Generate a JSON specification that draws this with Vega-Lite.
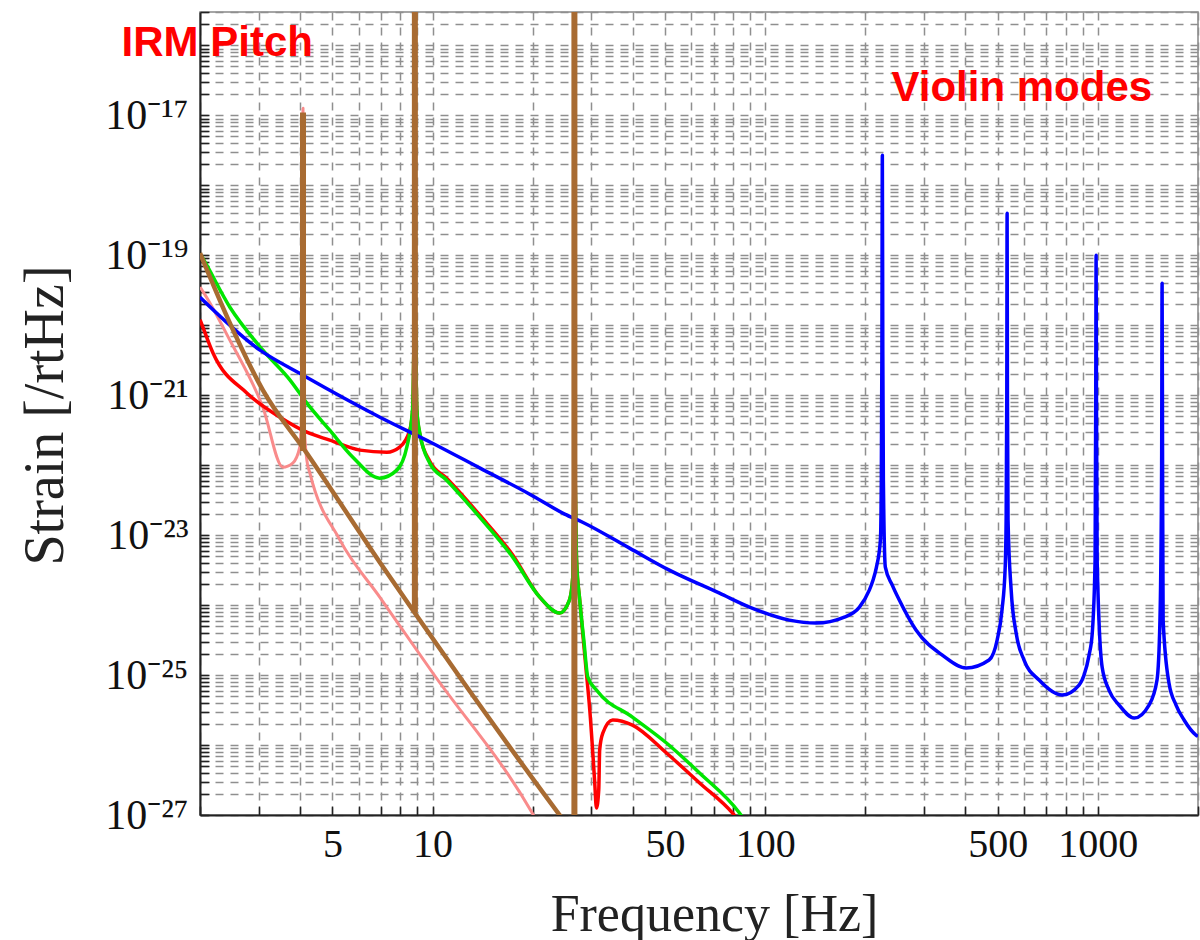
{
  "$schema": "https://vega.github.io/schema/vega-lite/v6.json",
  "width": 998,
  "height": 803,
  "autosize": {"type": "none"},
  "padding": {"left": 200, "top": 12, "right": 2, "bottom": 125},
  "background": "white",
  "config": {"view": {"stroke": "#888", "strokeWidth": 1.5}},
  "data": {"values": [
    {"c":"pink","i":1,"f":2.0,"s":3.5e-20},
    {"c":"pink","i":2,"f":2.03,"s":3.16e-20},
    {"c":"pink","i":3,"f":2.46,"s":6.10e-21},
    {"c":"pink","i":4,"f":3.09,"s":6.74e-22},
    {"c":"pink","i":5,"f":3.55,"s":9.36e-23},
    {"c":"pink","i":6,"f":3.80,"s":1.07e-22},
    {"c":"pink","i":7,"f":3.99,"s":1.81e-22},
    {"c":"pink","i":8,"f":4.05,"s":8.49e-22},
    {"c":"pink","i":9,"f":4.08,"s":1.26e-17},
    {"c":"pink","i":10,"f":4.11,"s":4.40e-22},
    {"c":"pink","i":11,"f":4.19,"s":1.18e-22},
    {"c":"pink","i":12,"f":4.28,"s":7.69e-23},
    {"c":"pink","i":13,"f":5.27,"s":8.49e-24},
    {"c":"pink","i":14,"f":6.94,"s":1.30e-24},
    {"c":"pink","i":15,"f":10.02,"s":1.07e-25},
    {"c":"pink","i":16,"f":19.86,"s":1.10e-27},
    {"c":"pink","i":17,"f":21.7,"s":5.18e-28},

    {"c":"red","i":1,"f":2.0,"s":1.2e-20},
    {"c":"red","i":2,"f":2.03,"s":1.0e-20},
    {"c":"red","i":3,"f":2.19,"s":3.98e-21},
    {"c":"red","i":4,"f":2.77,"s":1.07e-21},
    {"c":"red","i":5,"f":3.48,"s":4.85e-22},
    {"c":"red","i":6,"f":4.19,"s":2.96e-22},
    {"c":"red","i":7,"f":4.91,"s":2.28e-22},
    {"c":"red","i":8,"f":6.05,"s":1.64e-22},
    {"c":"red","i":9,"f":7.29,"s":1.53e-22},
    {"c":"red","i":10,"f":7.97,"s":1.81e-22},
    {"c":"red","i":11,"f":8.54,"s":3.16e-22},
    {"c":"red","i":12,"f":8.72,"s":6.10e-22},
    {"c":"red","i":13,"f":8.85,"s":2.28e-20},
    {"c":"red","i":14,"f":8.97,"s":6.10e-22},
    {"c":"red","i":15,"f":9.16,"s":2.74e-22},
    {"c":"red","i":16,"f":9.81,"s":1.14e-22},
    {"c":"red","i":17,"f":11.03,"s":6.5e-23},
    {"c":"red","i":18,"f":13.86,"s":1.94e-23},
    {"c":"red","i":19,"f":17.42,"s":5.2e-24},
    {"c":"red","i":20,"f":21.0,"s":1.30e-24},
    {"c":"red","i":21,"f":24.1,"s":7.69e-25},
    {"c":"red","i":22,"f":25.8,"s":1.18e-24},
    {"c":"red","i":23,"f":26.4,"s":2.51e-24},
    {"c":"red","i":24,"f":26.7,"s":1.64e-22},
    {"c":"red","i":25,"f":27.1,"s":4.40e-24},
    {"c":"red","i":26,"f":27.7,"s":1.18e-24},
    {"c":"red","i":27,"f":28.5,"s":2.68e-25},
    {"c":"red","i":28,"f":28.9,"s":1.30e-25},
    {"c":"red","i":29,"f":29.7,"s":3.16e-26},
    {"c":"red","i":30,"f":30.7,"s":3.16e-27},
    {"c":"red","i":31,"f":31.1,"s":1.26e-27},
    {"c":"red","i":32,"f":31.6,"s":2.28e-27},
    {"c":"red","i":33,"f":31.8,"s":8.49e-27},
    {"c":"red","i":34,"f":32.5,"s":1.48e-26},
    {"c":"red","i":35,"f":34.8,"s":2.28e-26},
    {"c":"red","i":36,"f":39.9,"s":1.93e-26},
    {"c":"red","i":37,"f":50.5,"s":7.69e-27},
    {"c":"red","i":38,"f":63.5,"s":2.87e-27},
    {"c":"red","i":39,"f":79.7,"s":1.07e-27},
    {"c":"red","i":40,"f":89.7,"s":5.18e-28},

    {"c":"green","i":1,"f":2.0,"s":1.05e-19},
    {"c":"green","i":2,"f":2.03,"s":9.36e-20},
    {"c":"green","i":3,"f":2.46,"s":1.81e-20},
    {"c":"green","i":4,"f":3.09,"s":4.40e-21},
    {"c":"green","i":5,"f":3.73,"s":1.64e-21},
    {"c":"green","i":6,"f":4.19,"s":7.69e-22},
    {"c":"green","i":7,"f":4.91,"s":3.16e-22},
    {"c":"green","i":8,"f":5.76,"s":1.30e-22},
    {"c":"green","i":9,"f":6.94,"s":6.52e-23},
    {"c":"green","i":10,"f":7.81,"s":8.49e-23},
    {"c":"green","i":11,"f":8.37,"s":1.81e-22},
    {"c":"green","i":12,"f":8.72,"s":6.74e-22},
    {"c":"green","i":13,"f":8.85,"s":2.28e-20},
    {"c":"green","i":14,"f":8.97,"s":6.10e-22},
    {"c":"green","i":15,"f":9.16,"s":2.87e-22},
    {"c":"green","i":16,"f":9.81,"s":1.07e-22},
    {"c":"green","i":17,"f":11.03,"s":6.10e-23},
    {"c":"green","i":18,"f":13.86,"s":1.81e-23},
    {"c":"green","i":19,"f":17.42,"s":4.85e-24},
    {"c":"green","i":20,"f":21.0,"s":1.30e-24},
    {"c":"green","i":21,"f":24.1,"s":7.69e-25},
    {"c":"green","i":22,"f":25.8,"s":1.18e-24},
    {"c":"green","i":23,"f":26.4,"s":2.51e-24},
    {"c":"green","i":24,"f":26.7,"s":1.64e-22},
    {"c":"green","i":25,"f":27.1,"s":4.40e-24},
    {"c":"green","i":26,"f":27.7,"s":1.18e-24},
    {"c":"green","i":27,"f":28.5,"s":3.16e-25},
    {"c":"green","i":28,"f":29.3,"s":9.36e-26},
    {"c":"green","i":29,"f":31.1,"s":6.10e-26},
    {"c":"green","i":30,"f":39.9,"s":2.51e-26},
    {"c":"green","i":31,"f":50.5,"s":1.07e-26},
    {"c":"green","i":32,"f":63.5,"s":3.98e-27},
    {"c":"green","i":33,"f":83.7,"s":1.07e-27},
    {"c":"green","i":34,"f":92.8,"s":5.18e-28},

    {"c":"blue","i":1,"f":2.0,"s":2.51e-20},
    {"c":"blue","i":2,"f":3.03,"s":4.40e-21},
    {"c":"blue","i":3,"f":4.08,"s":1.93e-21},
    {"c":"blue","i":4,"f":6.95,"s":4.85e-22},
    {"c":"blue","i":5,"f":10.0,"s":2.06e-22},
    {"c":"blue","i":6,"f":13.9,"s":9.06e-23},
    {"c":"blue","i":7,"f":19.6,"s":3.85e-23},
    {"c":"blue","i":8,"f":24.96,"s":2.0e-23},
    {"c":"blue","i":9,"f":28.25,"s":1.53e-23},
    {"c":"blue","i":10,"f":39.1,"s":6.52e-24},
    {"c":"blue","i":11,"f":51.5,"s":3.16e-24},
    {"c":"blue","i":12,"f":72.9,"s":1.48e-24},
    {"c":"blue","i":13,"f":89.7,"s":9.36e-25},
    {"c":"blue","i":14,"f":118.2,"s":6.10e-25},
    {"c":"blue","i":15,"f":142,"s":5.53e-25},
    {"c":"blue","i":16,"f":173,"s":6.74e-25},
    {"c":"blue","i":17,"f":192,"s":9.36e-25},
    {"c":"blue","i":18,"f":205.6,"s":1.64e-24},
    {"c":"blue","i":19,"f":211,"s":2.28e-24},
    {"c":"blue","i":20,"f":216,"s":3.49e-24},
    {"c":"blue","i":21,"f":222,"s":8.49e-24},
    {"c":"blue","i":22,"f":223.4,"s":6.1e-23},
    {"c":"blue","i":23,"f":224.3,"s":4.4e-21},
    {"c":"blue","i":24,"f":225,"s":2.68e-18},
    {"c":"blue","i":25,"f":225.7,"s":4.4e-21},
    {"c":"blue","i":26,"f":226.6,"s":6.1e-23},
    {"c":"blue","i":27,"f":229.7,"s":3.49e-24},
    {"c":"blue","i":28,"f":241,"s":1.93e-24},
    {"c":"blue","i":29,"f":253,"s":1.18e-24},
    {"c":"blue","i":30,"f":284,"s":4.40e-25},
    {"c":"blue","i":31,"f":340.6,"s":1.93e-25},
    {"c":"blue","i":32,"f":402,"s":1.26e-25},
    {"c":"blue","i":33,"f":471,"s":1.64e-25},
    {"c":"blue","i":34,"f":498,"s":3.16e-25},
    {"c":"blue","i":35,"f":515,"s":8.49e-25},
    {"c":"blue","i":36,"f":526.6,"s":3.49e-24},
    {"c":"blue","i":37,"f":530,"s":1.64e-23},
    {"c":"blue","i":38,"f":532.4,"s":1.0e-21},
    {"c":"blue","i":39,"f":533.6,"s":3.98e-19},
    {"c":"blue","i":40,"f":534.8,"s":1.0e-21},
    {"c":"blue","i":41,"f":537,"s":1.64e-23},
    {"c":"blue","i":42,"f":548.8,"s":1.64e-24},
    {"c":"blue","i":43,"f":568,"s":3.98e-25},
    {"c":"blue","i":44,"f":600,"s":1.64e-25},
    {"c":"blue","i":45,"f":666,"s":8.49e-26},
    {"c":"blue","i":46,"f":781,"s":5.18e-26},
    {"c":"blue","i":47,"f":878,"s":7.2e-26},
    {"c":"blue","i":48,"f":909,"s":1.0e-25},
    {"c":"blue","i":49,"f":941,"s":1.93e-25},
    {"c":"blue","i":50,"f":962,"s":3.98e-25},
    {"c":"blue","i":51,"f":981,"s":4.40e-24},
    {"c":"blue","i":52,"f":985.5,"s":1.0e-21},
    {"c":"blue","i":53,"f":988,"s":1.0e-19},
    {"c":"blue","i":54,"f":990.5,"s":1.0e-21},
    {"c":"blue","i":55,"f":995,"s":4.40e-24},
    {"c":"blue","i":56,"f":1030,"s":1.30e-25},
    {"c":"blue","i":57,"f":1080,"s":6.1e-26},
    {"c":"blue","i":58,"f":1158,"s":3.73e-26},
    {"c":"blue","i":59,"f":1286,"s":2.43e-26},
    {"c":"blue","i":60,"f":1425,"s":3.73e-26},
    {"c":"blue","i":61,"f":1506,"s":8.49e-26},
    {"c":"blue","i":62,"f":1537,"s":6.10e-25},
    {"c":"blue","i":63,"f":1555,"s":1.0e-22},
    {"c":"blue","i":64,"f":1560,"s":3.98e-20},
    {"c":"blue","i":65,"f":1565,"s":1.0e-22},
    {"c":"blue","i":66,"f":1571,"s":6.10e-25},
    {"c":"blue","i":67,"f":1636,"s":7.69e-26},
    {"c":"blue","i":68,"f":1718,"s":3.73e-26},
    {"c":"blue","i":69,"f":1816,"s":2.28e-26},
    {"c":"blue","i":70,"f":1972,"s":1.39e-26},
    {"c":"blue","i":71,"f":2000,"s":1.33e-26},

    {"c":"brown","i":1,"f":2.0,"s":1.07e-19},
    {"c":"brown","i":2,"f":2.46,"s":1.07e-20},
    {"c":"brown","i":3,"f":3.09,"s":1.18e-21},
    {"c":"brown","i":4,"f":4.19,"s":1.48e-22},
    {"c":"brown","i":5,"f":6.94,"s":4.11e-24},
    {"c":"brown","i":6,"f":8.72,"s":8.49e-25},
    {"c":"brown","i":7,"f":12.07,"s":9.36e-26},
    {"c":"brown","i":8,"f":24.1,"s":1.0e-27},
    {"c":"brown","i":9,"f":31.8,"s":1.74e-28},

    {"c":"brownspike","g":1,"i":1,"f":4.08,"s":1.6e-22},
    {"c":"brownspike","g":1,"i":2,"f":4.08,"s":1.10e-17},
    {"c":"brownspike","g":2,"i":1,"f":8.85,"s":8.0e-25},
    {"c":"brownspike","g":2,"i":2,"f":8.85,"s":1e-14},
    {"c":"brownspike","g":3,"i":1,"f":26.7,"s":1e-29},
    {"c":"brownspike","g":3,"i":2,"f":26.7,"s":1e-14}
  ]},
  "encoding": {
    "x": {
      "field": "f", "type": "quantitative",
      "scale": {"type": "log", "domain": [2, 2000], "nice": false},
      "axis": {
        "values": [2,3,4,5,6,7,8,9,10,20,30,40,50,60,70,80,90,100,200,300,400,500,600,700,800,900,1000,2000],
        "labelExpr": "indexof([5,10,50,100,500,1000], datum.value) >= 0 ? toString(datum.value) : ''",
        "labelFont": "Liberation Serif", "labelFontSize": 40, "labelColor": "#111",
        "labelPadding": 18, "labelOverlap": false, "labelFlush": false,
        "tickSize": -9, "tickColor": "#222", "tickWidth": 1.5,
        "grid": true, "gridColor": "#8f8f8f", "gridDash": [8, 7], "gridWidth": 1.5,
        "domainColor": "#222", "domainWidth": 2,
        "title": "Frequency [Hz]", "titleFont": "Liberation Serif", "titleFontSize": 52,
        "titleFontWeight": "normal", "titleColor": "#222",
        "titleX": 514, "titleY": 115, "titleBaseline": "alphabetic", "titleAlign": "center"
      }
    },
    "y": {
      "field": "s", "type": "quantitative",
      "scale": {"type": "log", "domain": [1e-27, 3e-16], "nice": false},
      "axis": {
        "values": [1e-27,2e-27,3e-27,4e-27,5e-27,6e-27,7e-27,8e-27,9e-27,
                   1e-26,2e-26,3e-26,4e-26,5e-26,6e-26,7e-26,8e-26,9e-26,
                   1e-25,2e-25,3e-25,4e-25,5e-25,6e-25,7e-25,8e-25,9e-25,
                   1e-24,2e-24,3e-24,4e-24,5e-24,6e-24,7e-24,8e-24,9e-24,
                   1e-23,2e-23,3e-23,4e-23,5e-23,6e-23,7e-23,8e-23,9e-23,
                   1e-22,2e-22,3e-22,4e-22,5e-22,6e-22,7e-22,8e-22,9e-22,
                   1e-21,2e-21,3e-21,4e-21,5e-21,6e-21,7e-21,8e-21,9e-21,
                   1e-20,2e-20,3e-20,4e-20,5e-20,6e-20,7e-20,8e-20,9e-20,
                   1e-19,2e-19,3e-19,4e-19,5e-19,6e-19,7e-19,8e-19,9e-19,
                   1e-18,2e-18,3e-18,4e-18,5e-18,6e-18,7e-18,8e-18,9e-18,
                   1e-17,2e-17,3e-17,4e-17,5e-17,6e-17,7e-17,8e-17,9e-17,
                   1e-16,2e-16,3e-16],
        "labelExpr": "datum.value == 1e-17 ? '10⁻¹⁷' : datum.value == 1e-19 ? '10⁻¹⁹' : datum.value == 1e-21 ? '10⁻²¹' : datum.value == 1e-23 ? '10⁻²³' : datum.value == 1e-25 ? '10⁻²⁵' : datum.value == 1e-27 ? '10⁻²⁷' : ''",
        "labelFont": "Liberation Serif", "labelFontSize": 42, "labelColor": "#111",
        "labelPadding": 21, "labelOverlap": false, "labelFlush": false,
        "tickSize": -9, "tickColor": "#222", "tickWidth": 1.5,
        "grid": true, "gridColor": "#8f8f8f", "gridDash": [8, 7], "gridWidth": 1.5,
        "domainColor": "#222", "domainWidth": 2,
        "title": "Strain [/rtHz]", "titleFont": "Liberation Serif", "titleFontSize": 56,
        "titleFontWeight": "normal", "titleColor": "#222",
        "titleX": -138, "titleY": 403, "titleAngle": -90, "titleBaseline": "alphabetic", "titleAlign": "center"
      }
    },
    "order": {"field": "i", "type": "quantitative"}
  },
  "layer": [
    {"transform": [{"filter": "datum.c == 'pink'"}], "mark": {"type": "line", "clip": true, "interpolate": "monotone", "color": "#f98b8b", "strokeWidth": 3, "strokeJoin": "round"}},
    {"transform": [{"filter": "datum.c == 'red'"}], "mark": {"type": "line", "clip": true, "interpolate": "monotone", "color": "#ff0000", "strokeWidth": 3.5, "strokeJoin": "round"}},
    {"transform": [{"filter": "datum.c == 'green'"}], "mark": {"type": "line", "clip": true, "interpolate": "monotone", "color": "#00e600", "strokeWidth": 3.5, "strokeJoin": "round"}},
    {"transform": [{"filter": "datum.c == 'blue'"}], "mark": {"type": "line", "clip": true, "interpolate": "monotone", "color": "#0000ff", "strokeWidth": 3.5, "strokeJoin": "round"}},
    {"transform": [{"filter": "datum.c == 'brown'"}], "mark": {"type": "line", "clip": true, "interpolate": "monotone", "color": "#a86b32", "strokeWidth": 4.5, "strokeJoin": "round"}},
    {"transform": [{"filter": "datum.c == 'brownspike'"}], "mark": {"type": "line", "clip": true, "color": "#a86b32", "strokeWidth": 6}, "encoding": {"detail": {"field": "g", "type": "nominal"}}},
    {
      "data": {"values": [
        {"label": "IRM Pitch", "f": 4.37, "s": 1.07e-16},
        {"label": "Violin modes", "f": 1456, "s": 2.5e-17}
      ]},
      "mark": {"type": "text", "align": "right", "baseline": "middle", "font": "Liberation Sans", "fontSize": 42, "fontWeight": "bold", "color": "#ff0000"},
      "encoding": {"text": {"field": "label", "type": "nominal"}, "order": {"value": 0}}
    }
  ]
}
